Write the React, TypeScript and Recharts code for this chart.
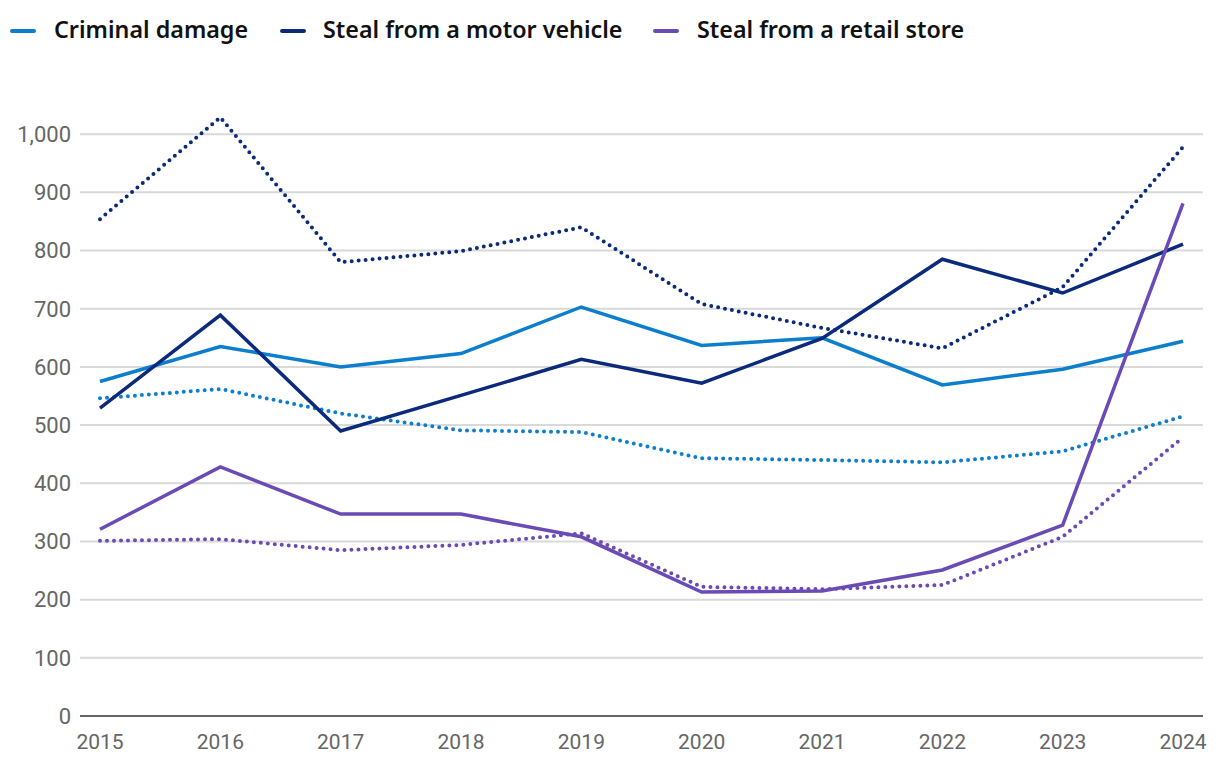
import React from 'react';
import { LineChart, Line, XAxis, YAxis, CartesianGrid } from 'recharts';

const years = ['2015', '2016', '2017', '2018', '2019', '2020', '2021', '2022', '2023', '2024'];
const criminalDamage = [575, 635, 600, 623, 703, 637, 650, 569, 596, 644];
const criminalDamageDotted = [546, 562, 520, 491, 488, 443, 440, 436, 455, 515];
const motorVehicle = [529, 689, 490, 551, 613, 572, 649, 785, 727, 811];
const motorVehicleDotted = [854, 1029, 780, 799, 840, 708, 667, 632, 737, 978];
const retailStore = [321, 428, 347, 347, 308, 213, 215, 251, 328, 881];
const retailStoreDotted = [301, 304, 285, 294, 314, 222, 218, 225, 308, 479];
const yTicks = [0, 100, 200, 300, 400, 500, 600, 700, 800, 900, 1000];

const C_CD = '#0b7fcd';
const C_MV = '#0b2a7b';
const C_RS = '#6a4bb6';

const legendItems = [
  { label: 'Criminal damage', color: C_CD, icon: 2, text: 46 },
  { label: 'Steal from a motor vehicle', color: C_MV, icon: 272, text: 315 },
  { label: 'Steal from a retail store', color: C_RS, icon: 645, text: 689 },
];

const data = years.map((y, i) => ({
  year: y,
  cd: criminalDamage[i],
  cdDot: criminalDamageDotted[i],
  mv: motorVehicle[i],
  mvDot: motorVehicleDotted[i],
  rs: retailStore[i],
  rsDot: retailStoreDotted[i],
}));

const xTickFont = { fill: '#666666', fontSize: 21, fontFamily: 'Roboto, sans-serif' };
const yTickFont = { fill: '#666666', fontSize: 22, fontFamily: 'Roboto, sans-serif' };

export default function App() {
  const dotted = { strokeWidth: 4, strokeDasharray: '0 7', strokeLinecap: 'round' as const, dot: false, isAnimationActive: false, type: 'linear' as const };
  const solid = { strokeWidth: 3.5, dot: false, isAnimationActive: false, type: 'linear' as const };
  return (
    <div style={{ position: 'relative', width: 1204, height: 746, fontFamily: '"Noto Sans", sans-serif' }}>
      {legendItems.map((it) => (
        <React.Fragment key={it.label}>
          <div style={{ position: 'absolute', left: it.icon, top: 21, width: 26, height: 4, borderRadius: 2, background: it.color }} />
          <div style={{ position: 'absolute', left: it.text, top: 6, fontSize: 23.3, fontWeight: 600, color: '#111', lineHeight: '30px', whiteSpace: 'nowrap' }}>{it.label}</div>
        </React.Fragment>
      ))}
      <LineChart width={1204} height={746} data={data} margin={{ top: 68, right: 9, left: 0, bottom: 0 }}>
        <CartesianGrid vertical={false} stroke="#d9d9d9" strokeWidth={2} horizontalValues={yTicks} />
        <XAxis dataKey="year" padding={{ left: 20, right: 20 }} axisLine={{ stroke: '#666666', strokeWidth: 2 }} tickLine={false} tick={xTickFont} tickMargin={12} height={38} interval={0} />
        <YAxis domain={[0, 1100]} ticks={yTicks} axisLine={false} tickLine={false} tick={yTickFont} tickMargin={3} width={72} tickFormatter={(v: number) => v.toLocaleString('en-US')} />
        <Line dataKey="cdDot" stroke={C_CD} {...dotted} />
        <Line dataKey="mvDot" stroke={C_MV} {...dotted} />
        <Line dataKey="rsDot" stroke={C_RS} {...dotted} />
        <Line dataKey="cd" stroke={C_CD} {...solid} />
        <Line dataKey="mv" stroke={C_MV} {...solid} />
        <Line dataKey="rs" stroke={C_RS} {...solid} />
      </LineChart>
    </div>
  );
}
